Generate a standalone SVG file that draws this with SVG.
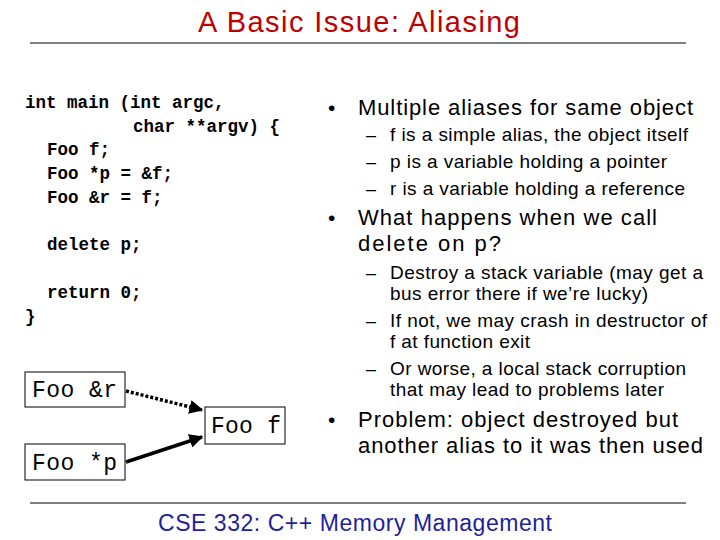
<svg xmlns="http://www.w3.org/2000/svg" width="720" height="540" viewBox="0 0 720 540">
<defs>
<marker id="ah" viewBox="0 0 10 10" refX="9" refY="5" markerWidth="4" markerHeight="4" orient="auto"><path d="M0,0 L10,5 L0,10 z" fill="#000"/></marker>
<style>
.t{font-family:"Liberation Sans",Arial,sans-serif;fill:#000}
.m{font-family:"Liberation Mono","Courier New",monospace;font-size:17.5px;font-weight:bold;fill:#000}
.b{fill:#fff;stroke:#000;stroke-width:1}
.bm{font-family:"Liberation Mono","Courier New",monospace;font-size:23px;fill:#000}
</style>
</defs>
<rect width="720" height="540" fill="#fff"/>
<text class="t" x="198" y="32" font-size="29" textLength="322" style="fill:#c00000">A Basic Issue: Aliasing</text>
<line x1="30" y1="43" x2="686" y2="43" stroke="#000"/>
<line x1="30" y1="503" x2="686" y2="503" stroke="#000"/>
<text class="t" x="158" y="531" font-size="23" textLength="394" style="fill:#1f1f99">CSE 332: C++ Memory Management</text>
<g id="code">
<text class="m" x="25" y="108">int main (int argc,</text>
<text class="m" x="133" y="132">char **argv) {</text>
<text class="m" x="47" y="155">Foo f;</text>
<text class="m" x="47" y="179">Foo *p = &amp;f;</text>
<text class="m" x="47" y="203">Foo &amp;r = f;</text>
<text class="m" x="47" y="250">delete p;</text>
<text class="m" x="47" y="298">return 0;</text>
<text class="m" x="25" y="322">}</text>
</g>
<g id="bullets">
<text class="t" x="328" y="115" font-size="21">•</text><text class="t" x="358" y="115" font-size="22" textLength="335">Multiple aliases for same object</text>
<text class="t" x="366" y="141" font-size="18">–</text><text class="t" x="390" y="141" font-size="19" textLength="298">f is a simple alias, the object itself</text>
<text class="t" x="366" y="168" font-size="18">–</text><text class="t" x="390" y="168" font-size="19" textLength="277">p is a variable holding a pointer</text>
<text class="t" x="366" y="195" font-size="18">–</text><text class="t" x="390" y="195" font-size="19" textLength="295">r is a variable holding a reference</text>
<text class="t" x="328" y="225" font-size="21">•</text><text class="t" x="358" y="225" font-size="22" textLength="299">What happens when we call</text>
<text class="t" x="358" y="251" font-size="22" textLength="143">delete on p?</text>
<text class="t" x="366" y="279" font-size="18">–</text><text class="t" x="390" y="279" font-size="19" textLength="313">Destroy a stack variable (may get a</text>
<text class="t" x="390" y="300" font-size="19" textLength="258">bus error there if we’re lucky)</text>
<text class="t" x="366" y="327" font-size="18">–</text><text class="t" x="390" y="327" font-size="19" textLength="317">If not, we may crash in destructor of</text>
<text class="t" x="390" y="348" font-size="19" textLength="140">f at function exit</text>
<text class="t" x="366" y="375" font-size="18">–</text><text class="t" x="390" y="375" font-size="19" textLength="296">Or worse, a local stack corruption</text>
<text class="t" x="390" y="396" font-size="19" textLength="274">that may lead to problems later</text>
<text class="t" x="328" y="427" font-size="21">•</text><text class="t" x="358" y="427" font-size="22" textLength="320">Problem: object destroyed but</text>
<text class="t" x="358" y="453" font-size="22" textLength="345">another alias to it was then used</text>
</g>
<g id="connectors">
<line x1="126" y1="391" x2="202" y2="410" stroke="#000" stroke-width="3.5" stroke-dasharray="3,2" marker-end="url(#ah)"/>
<line x1="126" y1="462" x2="202" y2="437" stroke="#000" stroke-width="3.5" marker-end="url(#ah)"/>
</g>
<g id="ref"><rect class="b" x="25" y="372" width="100" height="35"/><text class="bm" x="32" y="397" textLength="85">Foo &amp;r</text></g>
<g id="obj"><rect class="b" x="205" y="407" width="80" height="37"/><text class="bm" x="211" y="433" textLength="70">Foo f</text></g>
<g id="ptr"><rect class="b" x="25" y="444" width="100" height="36"/><text class="bm" x="32" y="470" textLength="85">Foo *p</text></g>
</svg>
